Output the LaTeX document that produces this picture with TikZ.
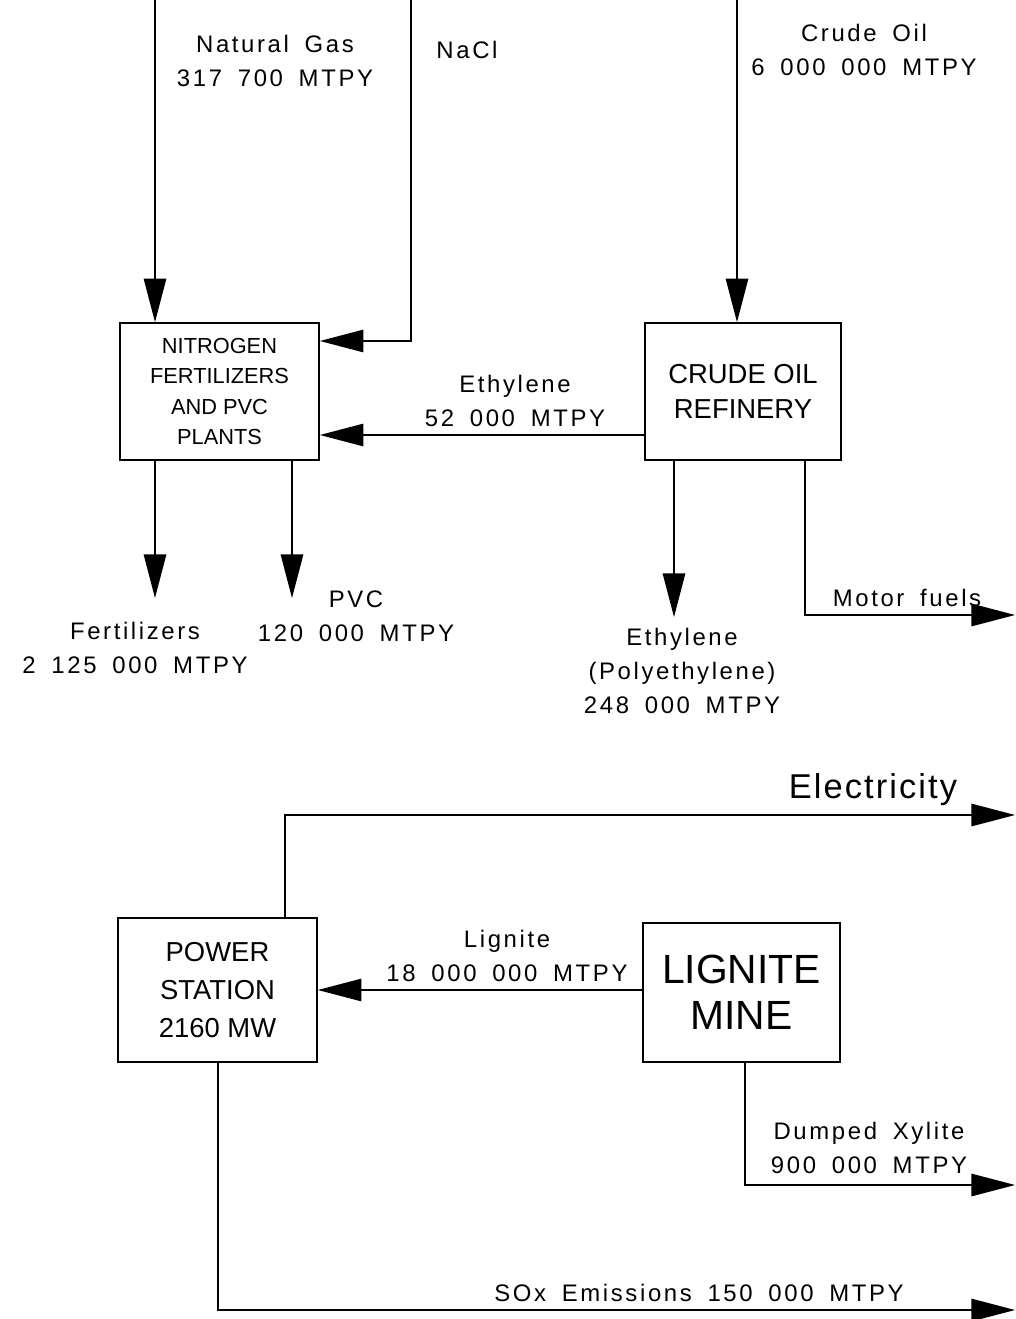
\documentclass[tikz,border=0pt]{standalone}
\usepackage{fontspec}
\setmainfont{Liberation Sans}
\newfontfamily\cadfont{Liberation Sans}[LetterSpace=11, WordSpace=1.7]
\newfontfamily\wideFont{Liberation Sans}[LetterSpace=6]
\usetikzlibrary{arrows.meta}

\begin{document}
\begin{tikzpicture}[
		x=0.025cm,
		y=-0.025cm,
		flow/.style={-{Triangle[length=31pt, width=16pt]}, line width=0.9pt},
		plant/.style={draw, line width=1.2pt, inner sep=0pt, align=center},
		lbl/.style={align=center, font=\cadfont\fontsize{17}{24}\selectfont}
		]
		\useasboundingbox (0,0) rectangle (1015,1319);
		
		% Plants
		\node[plant, minimum width=4.975cm, minimum height=3.425cm,
			font=\fontsize{15.5}{21.5}\selectfont] (nfp) at (219.5,391.5)
			{NITROGEN\\FERTILIZERS\\AND PVC\\PLANTS};
		\node[plant, minimum width=4.9cm, minimum height=3.425cm,
			font=\fontsize{19.5}{25}\selectfont] (refinery) at (743,391.5)
			{CRUDE OIL\\REFINERY};
		\node[plant, minimum width=4.975cm, minimum height=3.6cm,
			font=\fontsize{19.5}{27}\selectfont] (station) at (217.5,990)
			{POWER\\STATION\\2160 MW};
		\node[plant, minimum width=4.925cm, minimum height=3.475cm,
			font=\fontsize{29}{33}\selectfont] (mine) at (741.5,992.5)
			{LIGNITE\\MINE};
		
		% Free ends
		\coordinate (gas) at (155,0);
		\coordinate (nacl) at (411,0);
		\coordinate (naclturn) at (411,341);
		\coordinate (crude) at (737,0);
		\coordinate (ethyl) at (645,435);
		\coordinate (fert) at (155,598);
		\coordinate (pvc) at (292,598);
		\coordinate (poly) at (674,617);
		\coordinate (fuelturn) at (805,615);
		\coordinate (fuelout) at (1015,615);
		\coordinate (electurn) at (285,815);
		\coordinate (elecout) at (1015,815);
		\coordinate (xylturn) at (745,1185);
		\coordinate (xylout) at (1015,1185);
		\coordinate (soxturn) at (218,1310);
		\coordinate (soxout) at (1015,1310);
		
		% Inputs
		\draw[flow] (gas) -- (gas |- nfp.north);
		\draw[flow] (nacl) -- (naclturn) -- (naclturn -| nfp.east);
		\draw[flow] (crude) -- (crude |- refinery.north);
		\draw[flow] (ethyl) -- (ethyl -| nfp.east);
		\draw[flow] (mine.west |- station.east) -- (station.east);
		
		% Products
		\draw[flow] (fert |- nfp.south) -- (fert);
		\draw[flow] (pvc |- nfp.south) -- (pvc);
		\draw[flow] (poly |- refinery.south) -- (poly);
		\draw[flow] (fuelturn |- refinery.south) -- (fuelturn) -- (fuelout);
		\draw[flow] (electurn |- station.north) -- (electurn) -- (elecout);
		\draw[flow] (xylturn |- mine.south) -- (xylturn) -- (xylout);
		\draw[flow] (soxturn |- station.south) -- (soxturn) -- (soxout);
		
		% Labels
		\node[lbl] (gaslbl) at (275,61) {Natural Gas\\317 700 MTPY};
		\node[lbl] (nacllbl) at (467,50) {NaCl};
		\node[lbl] (crudelbl) at (864,50) {Crude Oil\\6 000 000 MTPY};
		\node[lbl] (ethyllbl) at (515,401) {Ethylene\\52 000 MTPY};
		\node[lbl] (fertlbl) at (135,648) {Fertilizers\\2 125 000 MTPY};
		\node[lbl] (pvclbl) at (356,616) {PVC\\120 000 MTPY};
		\node[lbl] (polylbl) at (682,671) {Ethylene\\(Polyethylene)\\248 000 MTPY};
		\node[lbl] (fuellbl) at (907,598) {Motor fuels};
		\node[font=\wideFont\fontsize{24.5}{28}\selectfont] (eleclbl) at (873,790) {Electricity};
		\node[lbl] (lignlbl) at (507,956) {Lignite\\18 000 000 MTPY};
		\node[lbl] (xyllbl) at (869,1148) {Dumped Xylite\\900 000 MTPY};
		\node[lbl] (soxlbl) at (699,1293) {SOx Emissions 150 000 MTPY};
		
	\end{tikzpicture}
\end{document}
